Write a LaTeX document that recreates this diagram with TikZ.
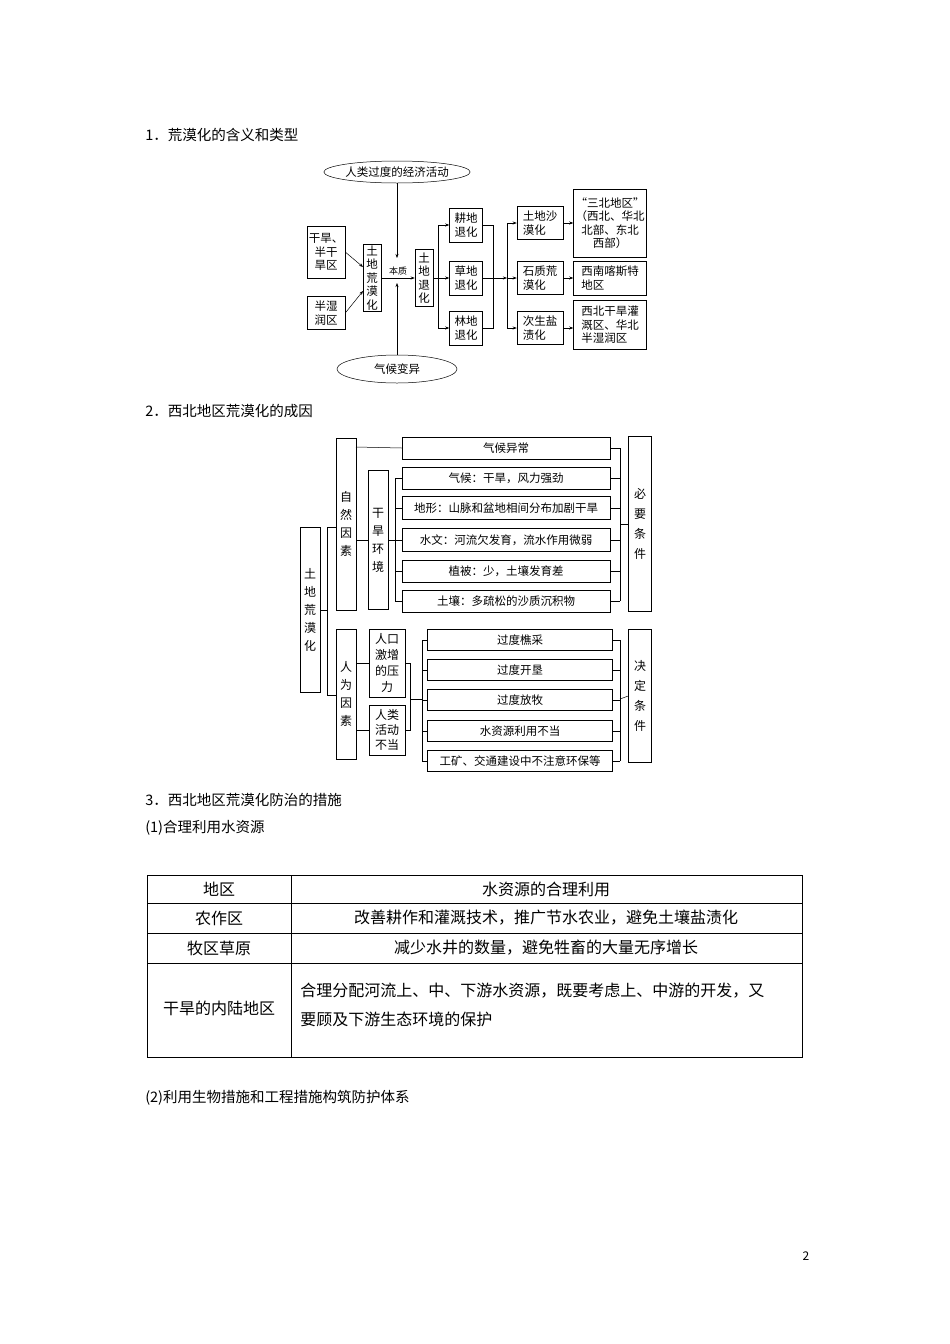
\documentclass[tikz,border=0pt]{standalone}
\usepackage{fontspec}
\setmainfont{Noto Sans CJK SC}
\usetikzlibrary{shapes.geometric,arrows.meta}
\begin{document}
\begin{tikzpicture}[x=1pt,y=-1pt,
 bx/.style={draw,inner sep=0pt,align=center},
 v1/.style={bx,font=\fontsize{11.5}{13.5}\selectfont},
 v2/.style={bx,font=\fontsize{12}{18}\selectfont},
 hb/.style={bx,font=\fontsize{11.5}{14}\selectfont,minimum width=208},
 mb/.style={bx,font=\fontsize{11.5}{14}\selectfont,minimum width=185,minimum height=21},
 ar/.style={-{Stealth[length=4pt,width=3pt]}},
 ln/.style={line width=0.5pt},
 hd/.style={anchor=west,inner sep=0pt,font=\fontsize{14.5}{17}\selectfont},
 tt/.style={inner sep=0pt,font=\fontsize{16}{29}\selectfont}]
\useasboundingbox (0,0) rectangle (950,1344);
\fill[white] (0,0) rectangle (950,1344);
\begin{scope}[ln]
\node[hd] (h1) at (145,135) {1．荒漠化的含义和类型};
\node[hd] (h2) at (145,411) {2．西北地区荒漠化的成因};
\node[hd] (h3) at (145,800) {3．西北地区荒漠化防治的措施};
\node[hd] (h4) at (145,828) {(1)合理利用水资源};
\node[hd] (h5) at (145,1098) {(2)利用生物措施和工程措施构筑防护体系};
\node[inner sep=0pt,font=\fontsize{12}{14}\selectfont] (pg) at (806,1256) {2};
% diagram 1
\node[draw,ellipse,inner sep=0pt,minimum width=128,minimum height=22,font=\fontsize{11.5}{13}\selectfont] (e1) at (397,172) {人类过度的经济活动};
\node[draw,ellipse,inner sep=0pt,minimum width=120,minimum height=28,font=\fontsize{11.5}{13}\selectfont] (e2) at (397,369) {气候变异};
\node[v1,minimum width=38,minimum height=52] (a1) at (326,252) {干旱、\\半干\\旱区};
\node[v1,minimum width=38,minimum height=33] (a2) at (326,313) {半湿\\润区};
\node[v1,minimum width=18,minimum height=67] (b) at (372,278) {土\\地\\荒\\漠\\化};
\node[v1,minimum width=18,minimum height=57] (c) at (424,278) {土\\地\\退\\化};
\coordinate (b1) at (363,267); \coordinate (b2) at (363,291);
\draw[ar] (a1.east) -- (b1);
\draw[ar] (a2.east) -- (b2);
\draw[ar] (b.east) -- (c.west);
\node[inner sep=0pt,font=\fontsize{9}{10}\selectfont] (bz) at (398,271) {本质};
\coordinate (t1) at (397,258); \coordinate (t2) at (397,283);
\draw[ar] (e1.south) -- (t1);
\draw[ar] (e2.north) -- (t2);
\node[v1,minimum width=33,minimum height=34] (d1) at (466,225) {耕地\\退化};
\node[v1,minimum width=33,minimum height=34] (d2) at (466,278) {草地\\退化};
\node[v1,minimum width=33,minimum height=34] (d3) at (466,328) {林地\\退化};
\draw (c.east) -- (438,278);
\draw (438,225) -- (438,328);
\draw[ar] (438,225) -- (d1.west);
\draw[ar] (438,278) -- (d2.west);
\draw[ar] (438,328) -- (d3.west);
\draw (d1.east) -- (493,225) -- (493,328) -- (d3.east);
\draw[ar] (d2.east) -- (507,278);
\draw (507,223) -- (507,328);
\node[v1,minimum width=46,minimum height=33,align=left] (f1) at (540,223) {土地沙\\漠化};
\node[v1,minimum width=46,minimum height=33,align=left] (f2) at (540,278) {石质荒\\漠化};
\node[v1,minimum width=46,minimum height=33,align=left] (f3) at (540,328) {次生盐\\渍化};
\draw[ar] (507,223) -- (f1.west);
\draw[ar] (507,278) -- (f2.west);
\draw[ar] (507,328) -- (f3.west);
\node[v1,minimum width=73,minimum height=68] (g1) at (610,223) {“三北地区”\\（西北、华北\\北部、东北\\西部）};
\node[v1,minimum width=73,minimum height=34,align=left] (g2) at (610,278) {西南喀斯特\\地区};
\node[v1,minimum width=73,minimum height=49,align=left] (g3) at (610,325) {西北干旱灌\\溉区、华北\\半湿润区};
\draw[ar] (f1.east) -- (g1.west |- f1.east);
\draw[ar] (f2.east) -- (g2.west |- f2.east);
\draw[ar] (f3.east) -- (g3.west |- f3.east);
% diagram 2
\node[v2,minimum width=20,minimum height=165] (L) at (310,610) {土\\地\\荒\\漠\\化};
\node[v2,minimum width=20,minimum height=172] (N) at (346,524) {自\\然\\因\\素};
\node[v2,minimum width=20,minimum height=130] (R) at (346,694) {人\\为\\因\\素};
\draw (L.east) -- (327,610);
\draw (336,527) -- (327,527) -- (327,695) -- (336,695);
\node[hb,minimum height=22] (K0) at (506,448) {气候异常};
\draw (356,447) -- (K0.west);
\node[v2,minimum width=20,minimum height=139] (D) at (378,540) {干\\旱\\环\\境};
\draw (356,540) -- (D.west);
\node[hb,minimum height=22] (K1) at (506,478) {气候：干旱，风力强劲};
\node[hb,minimum height=23] (K2) at (506,508) {地形：山脉和盆地相间分布加剧干旱};
\node[hb,minimum height=23] (K3) at (506,540) {水文：河流欠发育，流水作用微弱};
\node[hb,minimum height=22] (K4) at (506,571) {植被：少，土壤发育差};
\node[hb,minimum height=22] (K5) at (506,601) {土壤：多疏松的沙质沉积物};
\draw (D.east) -- (395,540);
\draw (395,478) -- (395,601);
\foreach \k in {K1,K2,K3,K4,K5} \draw (395,0 |- \k.west) -- (\k.west);
\node[v2,minimum width=23,minimum height=175,font=\fontsize{12}{20}\selectfont] (NB) at (640,524) {必\\要\\条\\件};
\foreach \k in {K0,K1,K2,K3,K4,K5} \draw (\k.east) -- (620,0 |- \k.east);
\draw (620,448) -- (620,601);
\draw (620,524) -- (NB.west);
\node[v1,minimum width=36,minimum height=68,font=\fontsize{12}{16}\selectfont] (P1) at (387,663) {人口\\激增\\的压\\力};
\node[v1,minimum width=36,minimum height=50,font=\fontsize{12}{15}\selectfont] (P2) at (387,730) {人类\\活动\\不当};
\draw (356,663) -- (P1.west);
\draw (356,730) -- (P2.west);
\draw (P1.east) -- (410,663) -- (410,730) -- (P2.east);
\draw (410,699) -- (422,699);
\draw (422,640) -- (422,761);
\node[mb] (M1) at (520,640) {过度樵采};
\node[mb] (M2) at (520,670) {过度开垦};
\node[mb] (M3) at (520,700) {过度放牧};
\node[mb] (M4) at (520,731) {水资源利用不当};
\node[mb] (M5) at (520,761) {工矿、交通建设中不注意环保等};
\foreach \k in {M1,M2,M3,M4,M5} {\draw (422,0 |- \k.west) -- (\k.west); \draw (\k.east) -- (620,0 |- \k.east);}
\draw (620,640) -- (620,761);
\node[v2,minimum width=23,minimum height=133,font=\fontsize{12}{20}\selectfont] (DB) at (640,696) {决\\定\\条\\件};
\draw (620,699) -- (DB.west);
% table
\draw (147,875) rectangle (802,1057);
\draw (147,903) -- (802,903);
\draw (147,933) -- (802,933);
\draw (147,963) -- (802,963);
\draw (291,875) -- (291,1057);
\node[tt] (r1a) at (219,889) {地区};
\node[tt] (r1b) at (546,889) {水资源的合理利用};
\node[tt] (r2a) at (219,918) {农作区};
\node[tt] (r2b) at (546,918) {改善耕作和灌溉技术，推广节水农业，避免土壤盐渍化};
\node[tt] (r3a) at (219,948) {牧区草原};
\node[tt] (r3b) at (546,948) {减少水井的数量，避免牲畜的大量无序增长};
\node[tt] (r4a) at (219,1008) {干旱的内陆地区};
\node[tt,anchor=north west,align=left] (r4b) at (300,983) {合理分配河流上、中、下游水资源，既要考虑上、中游的开发，又\\要顾及下游生态环境的保护};
\end{scope}
\end{tikzpicture}
\end{document}
